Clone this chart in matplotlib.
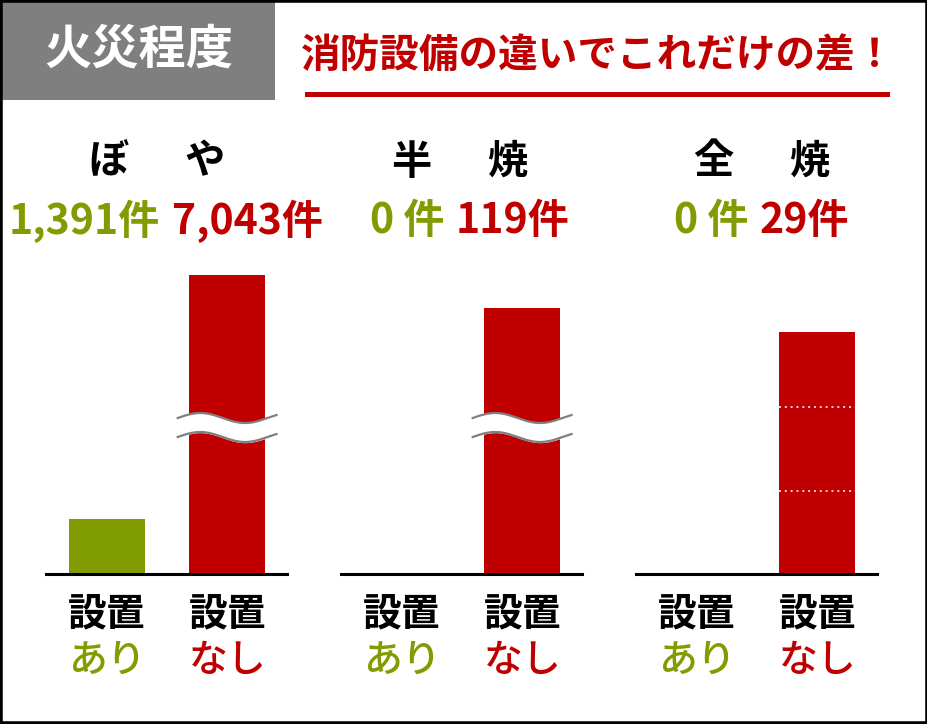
#火災程度ごとの件数（消防設備の設置あり／なし）の比較グラフ
import numpy as np
import matplotlib.pyplot as plt
from matplotlib.patches import Rectangle

plt.rcParams['font.family'] = ['Noto Sans CJK JP', 'DejaVu Sans']

#data
panels = ['ぼや', '半焼', '全焼']
count_ari = ['1,391件', '0 件', '0 件']
count_nashi = ['7,043件', '119件', '29件']
#bar heights as drawn (axis is broken for ぼや and 半焼, so these are shown heights)
height_ari = [55, 0, 0]
height_nashi = [299, 266, 242]
broken = [True, True, False]
#全焼 is to scale: dotted guide lines every 10 cases
zenshou_cases = 29
zenshou_guides = [10, 20]

green = '#809C00'
red = '#C00000'
W, H = 928, 724

fig = plt.figure(figsize=(W / 100, H / 100), dpi=100)

def px(x, y):
    return x / W, 1 - y / H

#header box and title
fig.patches.append(Rectangle((0, 1 - 100 / H), 275 / W, 100 / H, transform=fig.transFigure,
                             facecolor='#7F7F7F', edgecolor='none', zorder=0))
fig.text(*px(139, 50), '火災程度', color='white', fontsize=34, fontweight='bold',
         ha='center', va='center')
fig.text(*px(598, 55), '消防設備の違いでこれだけの差！', color=red, fontsize=28.5, fontweight='bold',
         ha='center', va='center')
fig.patches.append(Rectangle((305 / W, 1 - 97 / H), 585 / W, 5 / H, transform=fig.transFigure,
                             facecolor=red, edgecolor='none'))

panel_left = [46, 341, 636]
split = [166, 450, 754]
head_center = [157, 459, 761]

for i, name in enumerate(panels):
    ax = fig.add_axes([panel_left[i] / W, (H - 574) / H, 241 / W, 324 / H])
    ax.set_xlim(-61 / 120.5, 1 + 60 / 120.5)
    ax.set_ylim(0, 324)
    ax.bar([0, 1], [height_ari[i], height_nashi[i]], width=0.63, color=[green, red], zorder=1)
    for s in ['top', 'left', 'right']:
        ax.spines[s].set_visible(False)
    ax.spines['bottom'].set_linewidth(2.2)
    ax.spines['bottom'].set_zorder(5)
    ax.set_xticks([])
    ax.set_yticks([])
    ax.patch.set_alpha(0)

    #break mark on the tall bar
    if broken[i]:
        t = np.linspace(0, 99, 200)
        xs = 1 + (t - 49.5) / 120.5
        upper = 156 + 5 * np.sin(2 * np.pi * t / 90)
        lower = upper - 19
        ax.fill_between(xs, lower, upper, color='white', zorder=2)
        ax.plot(xs, upper, color='#808080', lw=1.6, zorder=3)
        ax.plot(xs, lower, color='#808080', lw=1.6, zorder=3)
    else:
        scale = height_nashi[i] / zenshou_cases
        for g in zenshou_guides:
            ax.plot([1 - 0.315, 1 + 0.315], [g * scale, g * scale], color='#F4D0D0',
                    lw=1.4, ls=(0, (1, 2)), zorder=3)

    #texts
    fig.text(*px(head_center[i] - 48, 162), name[0], fontsize=29, fontweight='bold',
             ha='center', va='center')
    fig.text(*px(head_center[i] + 48, 162), name[1], fontsize=29, fontweight='bold',
             ha='center', va='center')
    fig.text(*px(split[i] - 6, 221), count_ari[i], color=green, fontsize=29.5, fontweight='bold',
             ha='right', va='center')
    fig.text(*px(split[i] + 6, 221), count_nashi[i], color=red, fontsize=29.5, fontweight='bold',
             ha='left', va='center')
    for j, (lab, col) in enumerate([('あり', green), ('なし', red)]):
        cx = panel_left[i] + 61 + 120.5 * j
        fig.text(*px(cx, 614), '設置', fontsize=28, fontweight='bold', ha='center', va='center')
        fig.text(*px(cx, 661), lab, color=col, fontsize=28, fontweight='medium',
                 ha='center', va='center')

#outer frame
fig.patches.append(Rectangle((0, 0), 1, 1, transform=fig.transFigure, facecolor='none',
                             edgecolor='black', lw=4, zorder=10))

plt.savefig('out.png', dpi=100)
